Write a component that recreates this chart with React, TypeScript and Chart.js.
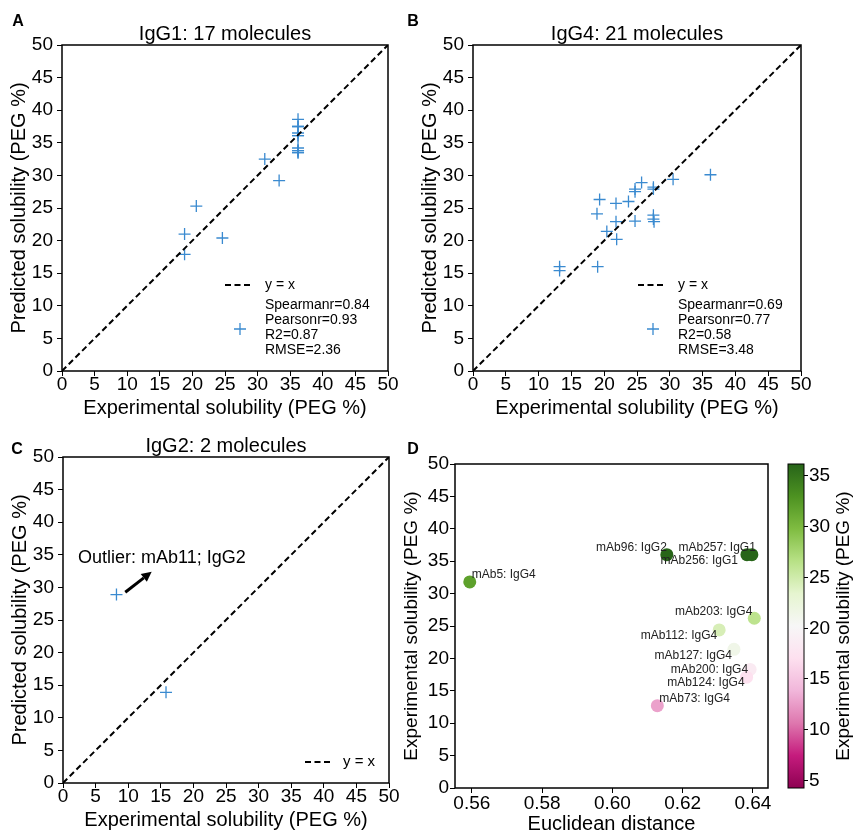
import React, { useEffect, useRef } from 'react';
import { Chart, registerables } from 'chart.js';
Chart.register(...registerables);

const FONT = '"Liberation Sans", Arial, Helvetica, sans-serif';
const BLUE = '#3a8ad0';

// ---------- shared ticks ----------
const solubilityTicks = [0, 5, 10, 15, 20, 25, 30, 35, 40, 45, 50];
const diagonal = [0, 50];

// ---------- Panel A: IgG1 ----------
const igg1Experimental = [36.2, 36.2, 36.2, 36.2, 36.2, 36.2, 36.2, 36.2, 36.2, 36.2, 36.2, 31.1, 33.3, 20.6, 18.8, 24.6, 18.8];
const igg1Predicted = [38.6, 37.5, 37.5, 36.5, 36.1, 36.1, 34.2, 33.8, 33.8, 33.5, 33.5, 32.5, 29.2, 25.3, 21.0, 20.4, 17.9];
const igg1Stats = ['Spearmanr=0.84', 'Pearsonr=0.93', 'R2=0.87', 'RMSE=2.36'];

// ---------- Panel B: IgG4 ----------
const igg4Experimental = [36.2, 30.5, 25.7, 24.7, 24.7, 27.5, 27.5, 19.3, 21.8, 23.7, 18.9, 21.8, 24.7, 27.5, 27.5, 27.6, 20.4, 21.9, 19.0, 13.2, 13.2];
const igg4Predicted = [30.1, 29.4, 28.9, 27.9, 27.5, 28.2, 27.9, 26.3, 25.7, 26.0, 24.1, 22.9, 23.0, 23.9, 23.3, 22.9, 21.4, 20.2, 16.0, 16.0, 15.4];
const igg4Stats = ['Spearmanr=0.69', 'Pearsonr=0.77', 'R2=0.58', 'RMSE=3.48'];

// ---------- Panel C: IgG2 ----------
const igg2Experimental = [8.2, 15.8];
const igg2Predicted = [28.9, 13.9];
const outlierLabel = 'Outlier: mAb11; IgG2';
const outlierTextAt = [2.3, 34.5];
const outlierArrowFrom = [9.55, 29.25];
const outlierArrowTo = [13.6, 32.4];

// ---------- Panel D ----------
const dNames = ['mAb5: IgG4', 'mAb96: IgG2', 'mAb257: IgG1', 'mAb256: IgG1', 'mAb203: IgG4', 'mAb112: IgG4', 'mAb127: IgG4', 'mAb200: IgG4', 'mAb124: IgG4', 'mAb73: IgG4'];
const dDistance = [0.5594, 0.6155, 0.6397, 0.6383, 0.6404, 0.6304, 0.6346, 0.6392, 0.6382, 0.6128];
const dSolubility = [31.8, 36.0, 36.0, 36.0, 26.2, 24.4, 21.4, 18.3, 17.1, 12.7];
const distanceTicks = [0.56, 0.58, 0.6, 0.62, 0.64];
const colorbarTicks = [5, 10, 15, 20, 25, 30, 35];
const colorMin = 4.2;
const colorMax = 36.1;
const dLabelOffsets: [number, number, string][] = [
  [2, -7, 'left'], [0, -7, 'right'], [4, -7, 'right'], [-9, 6, 'right'], [-2, -7, 'right'],
  [-2, 6, 'right'], [-2, 6, 'right'], [-2, 0, 'right'], [-2, 5, 'right'], [2, -7, 'left'],
];

const PIYG = ['#8e0152', '#c51b7d', '#de77ae', '#f1b6da', '#fde0ef', '#f7f7f7', '#e6f5d0', '#b8e186', '#7fbc41', '#4d9221', '#276419'];

function hexToRgb(h: string) {
  return [parseInt(h.slice(1, 3), 16), parseInt(h.slice(3, 5), 16), parseInt(h.slice(5, 7), 16)];
}
function piyg(v: number) {
  let t = (v - colorMin) / (colorMax - colorMin);
  t = Math.max(0, Math.min(1, t));
  const p = t * (PIYG.length - 1);
  const i = Math.min(Math.floor(p), PIYG.length - 2);
  const f = p - i;
  const a = hexToRgb(PIYG[i]);
  const b = hexToRgb(PIYG[i + 1]);
  const c = a.map((x, k) => Math.round(x + (b[k] - x) * f));
  return `rgb(${c[0]},${c[1]},${c[2]})`;
}

Chart.defaults.font.family = FONT;
Chart.defaults.color = '#000';

const gridCfg = { drawOnChartArea: false, drawTicks: true, tickLength: 5, color: '#000', lineWidth: 1 };

function solubilityAxis(title: string, isY: boolean, fit: number, titlePad: number) {
  return {
    type: 'linear',
    min: 0,
    max: 50,
    afterBuildTicks: (s: any) => { s.ticks = solubilityTicks.map((v) => ({ value: v })); },
    afterFit: (s: any) => { if (isY) s.width = fit; else s.height = fit; },
    grid: gridCfg,
    border: { display: false },
    ticks: { color: '#000', font: { size: 19, lineHeight: 1 }, padding: isY ? 4 : -1, maxRotation: 0, autoSkip: false },
    title: {
      display: true, text: title, color: '#000', font: { size: 20 },
      padding: isY ? { top: titlePad, bottom: 0 } : { top: 0, bottom: titlePad },
    },
  };
}

function drawCross(ctx: any, x: number, y: number, r: number) {
  ctx.beginPath();
  ctx.moveTo(x - r, y); ctx.lineTo(x + r, y);
  ctx.moveTo(x, y - r); ctx.lineTo(x, y + r);
  ctx.stroke();
}

function makeScatterDecor(cfg: any) {
  return {
    id: 'scatterDecor',
    afterDraw(chart: any) {
      const ctx = chart.ctx;
      const a = chart.chartArea;
      const xs = chart.scales.x;
      const ys = chart.scales.y;
      ctx.save();
      ctx.setLineDash([]);
      ctx.strokeStyle = '#000';
      ctx.lineWidth = 1.5;
      ctx.strokeRect(a.left, a.top, a.right - a.left, a.bottom - a.top);
      ctx.fillStyle = '#000';
      ctx.textBaseline = 'middle';
      ctx.textAlign = 'center';
      ctx.font = `20px ${FONT}`;
      ctx.fillText(cfg.title, (a.left + a.right) / 2, a.top - 11);
      ctx.font = `bold 16px ${FONT}`;
      ctx.fillText(cfg.letter, cfg.letterX, cfg.letterY);
      ctx.textAlign = 'left';
      if (cfg.stats) {
        ctx.lineWidth = 2;
        ctx.setLineDash([6, 3.5]);
        ctx.beginPath();
        ctx.moveTo(a.right - 163, a.bottom - 86);
        ctx.lineTo(a.right - 135, a.bottom - 86);
        ctx.stroke();
        ctx.setLineDash([]);
        ctx.font = `14px ${FONT}`;
        ctx.fillText('y = x', a.right - 123, a.bottom - 86);
        cfg.stats.forEach((s: string, i: number) => {
          ctx.fillText(s, a.right - 123, a.bottom - 66 + i * 15);
        });
        ctx.strokeStyle = BLUE;
        ctx.lineWidth = 1.3;
        drawCross(ctx, a.right - 148, a.bottom - 42, 6);
      } else {
        ctx.lineWidth = 2;
        ctx.setLineDash([6, 3.5]);
        ctx.beginPath();
        ctx.moveTo(a.right - 84, a.bottom - 21);
        ctx.lineTo(a.right - 57, a.bottom - 21);
        ctx.stroke();
        ctx.setLineDash([]);
        ctx.font = `15px ${FONT}`;
        ctx.fillText('y = x', a.right - 46, a.bottom - 21);
      }
      if (cfg.outlier) {
        ctx.font = `18px ${FONT}`;
        ctx.fillStyle = '#000';
        ctx.fillText(outlierLabel, xs.getPixelForValue(outlierTextAt[0]), ys.getPixelForValue(outlierTextAt[1]));
        const x0 = xs.getPixelForValue(outlierArrowFrom[0]);
        const y0 = ys.getPixelForValue(outlierArrowFrom[1]);
        const x1 = xs.getPixelForValue(outlierArrowTo[0]);
        const y1 = ys.getPixelForValue(outlierArrowTo[1]);
        const ang = Math.atan2(y1 - y0, x1 - x0);
        const hl = 10, hw = 5;
        const bx = x1 - hl * Math.cos(ang);
        const by = y1 - hl * Math.sin(ang);
        ctx.strokeStyle = '#000';
        ctx.lineWidth = 3;
        ctx.beginPath();
        ctx.moveTo(x0, y0);
        ctx.lineTo(bx, by);
        ctx.stroke();
        ctx.beginPath();
        ctx.moveTo(x1, y1);
        ctx.lineTo(bx + hw * Math.sin(ang), by - hw * Math.cos(ang));
        ctx.lineTo(bx - hw * Math.sin(ang), by + hw * Math.cos(ang));
        ctx.closePath();
        ctx.fill();
      }
      ctx.restore();
    },
  };
}

function scatterPanel(o: any) {
  return {
    type: 'scatter',
    data: {
      datasets: [
        {
          label: 'y = x',
          data: diagonal.map((v) => ({ x: v, y: v })),
          showLine: true,
          borderColor: '#000',
          borderWidth: 2,
          borderDash: [6, 3.5],
          pointRadius: 0,
          pointHoverRadius: 0,
        },
        {
          label: 'molecules',
          data: o.experimental.map((x: number, i: number) => ({ x, y: o.predicted[i] })),
          pointStyle: 'cross',
          pointRadius: 6,
          pointHoverRadius: 6,
          borderColor: BLUE,
          backgroundColor: BLUE,
          borderWidth: 1.3,
        },
      ],
    },
    options: {
      animation: false,
      responsive: false,
      devicePixelRatio: 1,
      events: [],
      layout: { padding: { left: 0, right: o.rightPad, top: 45, bottom: 0 } },
      plugins: { legend: { display: false }, tooltip: { enabled: false }, title: { display: false } },
      scales: {
        x: solubilityAxis('Experimental solubility (PEG %)', false, 49, 0),
        y: solubilityAxis('Predicted solubility (PEG %)', true, o.yWidth, o.yTitlePad),
      },
    },
    plugins: [makeScatterDecor(o.decor)],
  };
}

const dDecor = {
  id: 'dDecor',
  afterDraw(chart: any) {
    const ctx = chart.ctx;
    const a = chart.chartArea;
    const xs = chart.scales.x;
    const ys = chart.scales.y;
    const cb = chart.scales.cb;
    ctx.save();
    ctx.strokeStyle = '#000';
    ctx.lineWidth = 1.5;
    ctx.strokeRect(a.left, a.top, a.right - a.left, a.bottom - a.top);
    ctx.fillStyle = '#000';
    ctx.textBaseline = 'middle';
    ctx.textAlign = 'center';
    ctx.font = `bold 16px ${FONT}`;
    ctx.fillText('D', 13, 10);
    // point labels
    ctx.font = `12px ${FONT}`;
    ctx.fillStyle = '#222';
    dNames.forEach((name, i) => {
      const px = xs.getPixelForValue(dDistance[i]);
      const py = ys.getPixelForValue(dSolubility[i]);
      const [dx, dy, al] = dLabelOffsets[i];
      ctx.textAlign = al;
      ctx.fillText(name, px + dx, py + dy);
    });
    // colorbar
    const x0 = a.right + 20;
    const x1 = x0 + 16;
    const top = cb.getPixelForValue(colorMax);
    const bottom = cb.getPixelForValue(colorMin);
    const g = ctx.createLinearGradient(0, bottom, 0, top);
    PIYG.forEach((c, i) => g.addColorStop(i / (PIYG.length - 1), c));
    ctx.fillStyle = g;
    ctx.fillRect(x0, top, x1 - x0, bottom - top);
    ctx.strokeStyle = '#000';
    ctx.lineWidth = 1;
    ctx.strokeRect(x0, top, x1 - x0, bottom - top);
    ctx.fillStyle = '#000';
    ctx.font = `19px ${FONT}`;
    ctx.textAlign = 'left';
    colorbarTicks.forEach((v) => {
      const y = Math.round(cb.getPixelForValue(v)) + 0.5;
      ctx.beginPath();
      ctx.moveTo(x1, y);
      ctx.lineTo(x1 + 4, y);
      ctx.stroke();
      ctx.fillText(String(v), x1 + 5, y);
    });
    ctx.translate(a.right + 76, (top + bottom) / 2);
    ctx.rotate(-Math.PI / 2);
    ctx.textAlign = 'center';
    ctx.font = `19px ${FONT}`;
    ctx.fillText('Experimental solubility (PEG %)', 0, 0);
    ctx.restore();
  },
};

function dPanel() {
  const colors = dSolubility.map(piyg);
  return {
    type: 'scatter',
    data: {
      datasets: [
        {
          label: 'antibodies',
          data: dDistance.map((x, i) => ({ x, y: dSolubility[i] })),
          xAxisID: 'x',
          yAxisID: 'y',
          backgroundColor: colors,
          borderColor: colors,
          borderWidth: 0,
          pointRadius: 6.5,
          pointHoverRadius: 6.5,
        },
      ],
    },
    options: {
      animation: false,
      responsive: false,
      devicePixelRatio: 1,
      events: [],
      layout: { padding: { left: 0, right: 87, top: 24, bottom: 0 } },
      plugins: { legend: { display: false }, tooltip: { enabled: false } },
      scales: {
        x: {
          type: 'linear',
          min: 0.5552,
          max: 0.6443,
          afterBuildTicks: (s: any) => { s.ticks = distanceTicks.map((v) => ({ value: v })); },
          afterFit: (s: any) => { s.height = 44; },
          grid: gridCfg,
          border: { display: false },
          ticks: { color: '#000', font: { size: 19, lineHeight: 1 }, padding: 1, maxRotation: 0, autoSkip: false, callback: (v: any) => Number(v).toFixed(2) },
          title: { display: true, text: 'Euclidean distance', color: '#000', font: { size: 20, lineHeight: 1 }, padding: { top: 0, bottom: -2 } },
        },
        y: {
          type: 'linear',
          position: 'left',
          min: 0,
          max: 50,
          afterBuildTicks: (s: any) => { s.ticks = solubilityTicks.map((v) => ({ value: v })); },
          afterFit: (s: any) => { s.width = 55; },
          grid: gridCfg,
          border: { display: false },
          ticks: { color: '#000', font: { size: 19, lineHeight: 1 }, padding: 1, autoSkip: false },
          title: { display: true, text: 'Experimental solubility (PEG %)', color: '#000', font: { size: 19 }, padding: { top: 0, bottom: 0 } },
        },
        cb: { type: 'linear', position: 'right', display: false, min: colorMin, max: colorMax },
      },
    },
    plugins: [dDecor],
  };
}

function ChartBox({ make, left, top, width, height }: any) {
  const ref = useRef<HTMLCanvasElement>(null);
  useEffect(() => {
    const chart = new Chart(ref.current as HTMLCanvasElement, make() as any);
    return () => chart.destroy();
  }, []);
  return (
    <canvas ref={ref} width={width} height={height}
      style={{ position: 'absolute', left, top, width, height }} />
  );
}

export default function App() {
  return (
    <div style={{ position: 'absolute', left: 0, top: 0, width: 855, height: 832, background: '#fff', overflow: 'hidden' }}>
      <ChartBox left={0} top={0} width={400} height={420}
        make={() => scatterPanel({
          experimental: igg1Experimental, predicted: igg1Predicted, rightPad: 12, yWidth: 62, yTitlePad: 7,
          decor: { letter: 'A', letterX: 18, letterY: 22, title: 'IgG1: 17 molecules', stats: igg1Stats, outlier: false },
        })} />
      <ChartBox left={401} top={0} width={412} height={420}
        make={() => scatterPanel({
          experimental: igg4Experimental, predicted: igg4Predicted, rightPad: 12, yWidth: 72, yTitlePad: 17,
          decor: { letter: 'B', letterX: 12, letterY: 22, title: 'IgG4: 21 molecules', stats: igg4Stats, outlier: false },
        })} />
      <ChartBox left={0} top={412} width={401} height={420}
        make={() => scatterPanel({
          experimental: igg2Experimental, predicted: igg2Predicted, rightPad: 12, yWidth: 63, yTitlePad: 8,
          decor: { letter: 'C', letterX: 17, letterY: 38, title: 'IgG2: 2 molecules', stats: null, outlier: true },
        })} />
      <ChartBox left={400} top={440} width={455} height={392} make={dPanel} />
    </div>
  );
}
